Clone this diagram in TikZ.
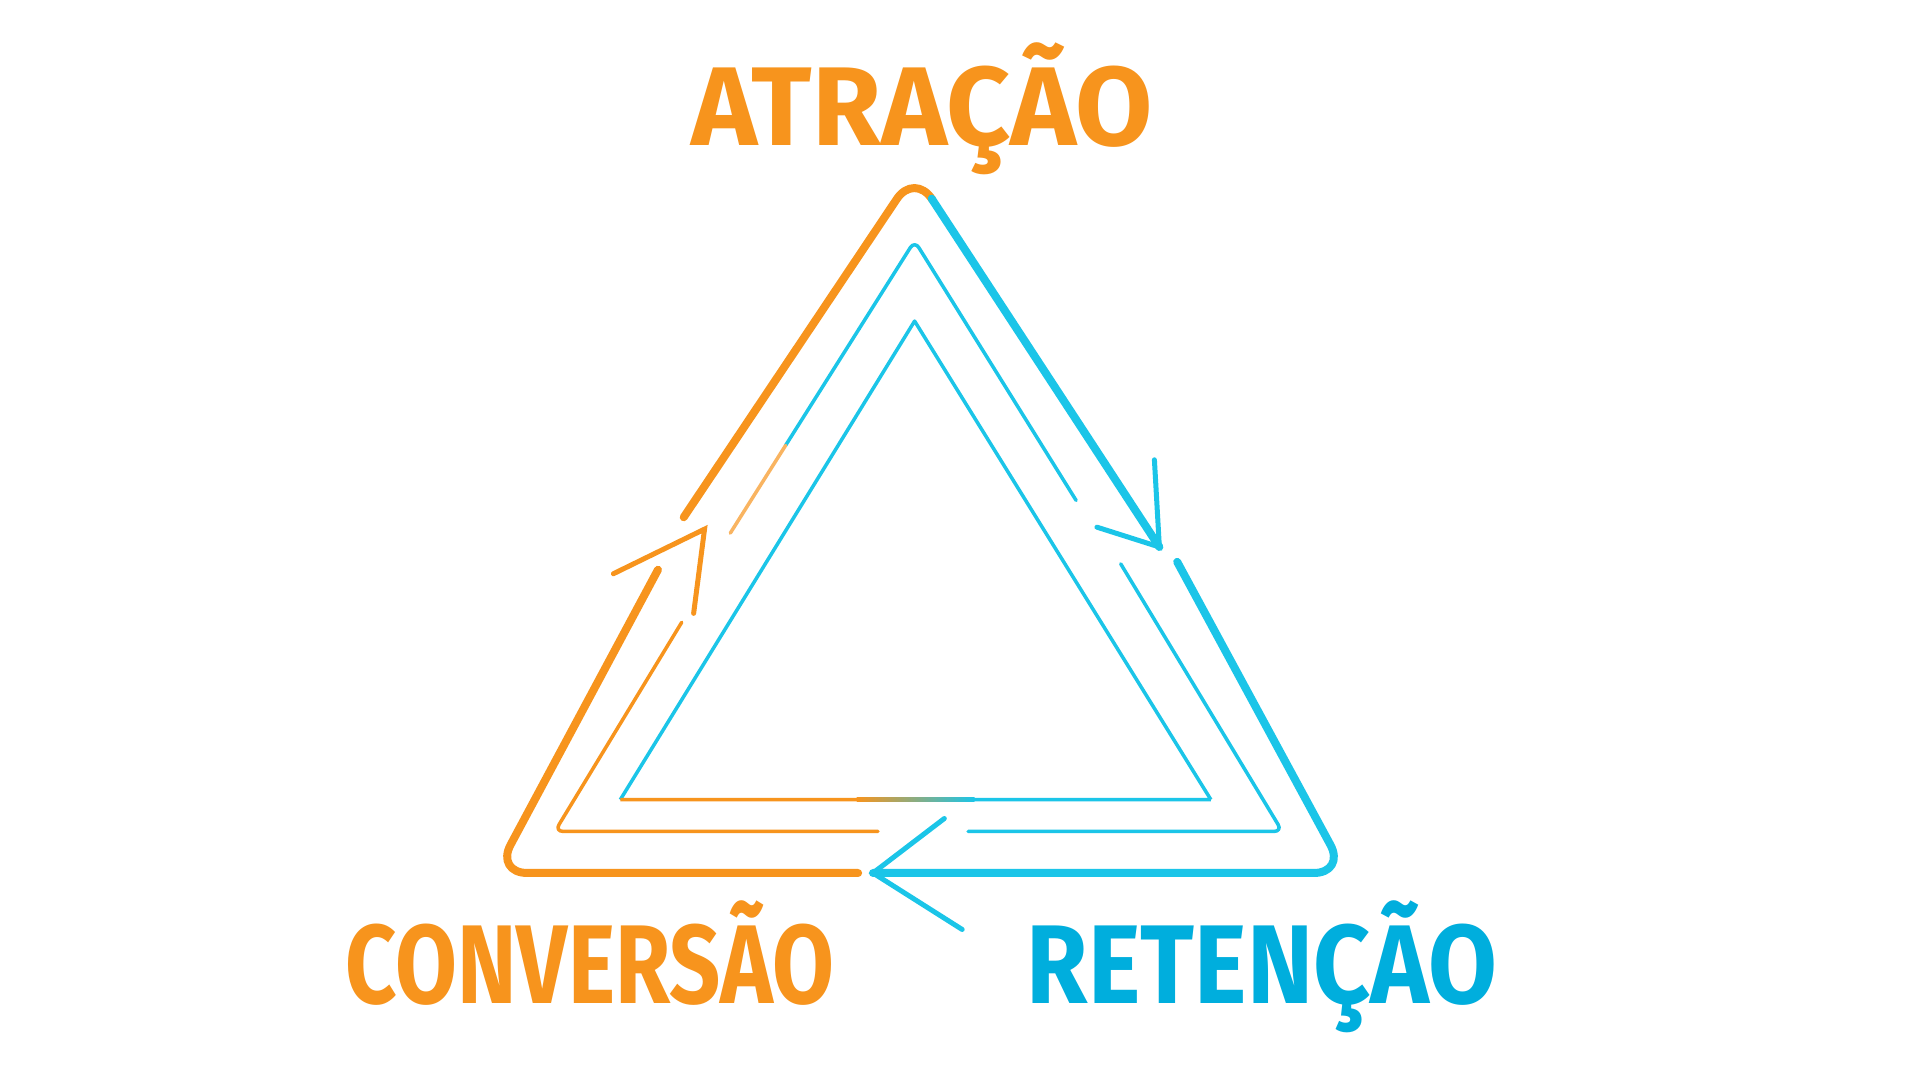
\documentclass[tikz,border=0pt]{standalone}
\usepackage{fontspec}
\setmainfont{Fira Sans}
\usetikzlibrary{calc}
\definecolor{org}{HTML}{F7941D}
\definecolor{cyn}{HTML}{1BC5E8}
\definecolor{blu}{HTML}{00AEDD}
\begin{document}
\begin{tikzpicture}[x=1pt,y=-1pt,
  lbl/.style={font=\fontsize{112}{116}\selectfont\bfseries, inner sep=0pt, anchor=base},
  thick1/.style={line width=8pt, line cap=round, line join=round, rounded corners=32pt},
  thin1/.style={line width=3.5pt, line cap=round, line join=round, rounded corners=8pt},
  arr/.style={line width=5pt, line cap=round, line join=miter}]
\useasboundingbox[fill=white] (0,0) rectangle (1920,1080);
% labels
\node[lbl, text=org] (atr) at (922,145) {\scalebox{1.0}[1]{ATRAÇÃO}};
\node[lbl, text=org] (con) at (590,1003) {\scalebox{0.80}[1]{CONVERSÃO}};
\node[lbl, text=blu] (ret) at (1262,1003) {\scalebox{0.89}[1]{RETENÇÃO}};
\begin{scope}[scale=0.991]
% outer coordinates
\coordinate (oA) at (923,174);
\coordinate (oL) at (500,881);
\coordinate (oR) at (1358,881);
\coordinate (o1) at (690,522);
\coordinate (o2) at (664,575);
\coordinate (o3) at (866,881);
\coordinate (o4) at (881,881);
\coordinate (o5) at (1188,567);
\coordinate (o6) at (1170,552);
\coordinate (oS) at ($(oA)!0.07!(o6)$);
% outer strokes
\draw[thick1, org] (o1) -- (oA) -- (oS);
\draw[line width=8pt, line cap=round, cyn] (oS) -- (o6);
\draw[thick1, org] (o2) -- (oL) -- (o3);
\draw[thick1, cyn] (o5) -- (oR) -- (o4);
% arrowheads
\coordinate (t1) at (711,534); \coordinate (b1a) at (700,619); \coordinate (b1b) at (619,579);
\draw[arr, org] (b1a) -- (t1) -- (b1b);
\coordinate (b2a) at (953,826); \coordinate (b2b) at (971,938);
\draw[arr, cyn] (b2a) -- (o4) -- (b2b);
\coordinate (b3a) at (1165,464); \coordinate (b3b) at (1107,532);
\draw[arr, cyn] (b3a) -- (o6) -- (b3b);
% middle triangle
\coordinate (mA) at (923,243);
\coordinate (mL) at (560,839);
\coordinate (mR) at (1294,839);
\coordinate (m1) at (737,538);
\coordinate (m2) at (688,628);
\coordinate (m3) at (1086,505);
\coordinate (m4) at (1131,569);
\coordinate (m5) at (886,839);
\coordinate (m6) at (977,839);
\draw[thin1, cyn] (m3) -- (mA) -- ($(mA)!0.3!(m1)$);
\draw[line width=3.5pt, line cap=round, cyn] ($(mA)!0.3!(m1)$) -- ($(mA)!0.7!(m1)$);
\draw[line width=3.5pt, line cap=round, org!70] ($(mA)!0.7!(m1)$) -- (m1);
\draw[thin1, org] (m2) -- (mL) -- (m5);
\draw[thin1, cyn] (m4) -- (mR) -- (m6);
% inner triangle
\coordinate (iA) at (923,324);
\coordinate (iL) at (626,807);
\coordinate (iR) at (1222,807);
\draw[line width=3.5pt, line join=round, cyn] (iL) -- (iA) -- (iR);
\draw[line width=3.5pt, org] (iL) -- ($(iL)!0.4!(iR)$);
\draw[line width=3.5pt, cyn] ($(iL)!0.6!(iR)$) -- (iR);
\shade[left color=org, right color=cyn] ($(iL)!0.4!(iR)+(0,-1.75)$) rectangle ($(iL)!0.6!(iR)+(0,1.75)$);
\end{scope}
\end{tikzpicture}
\end{document}
